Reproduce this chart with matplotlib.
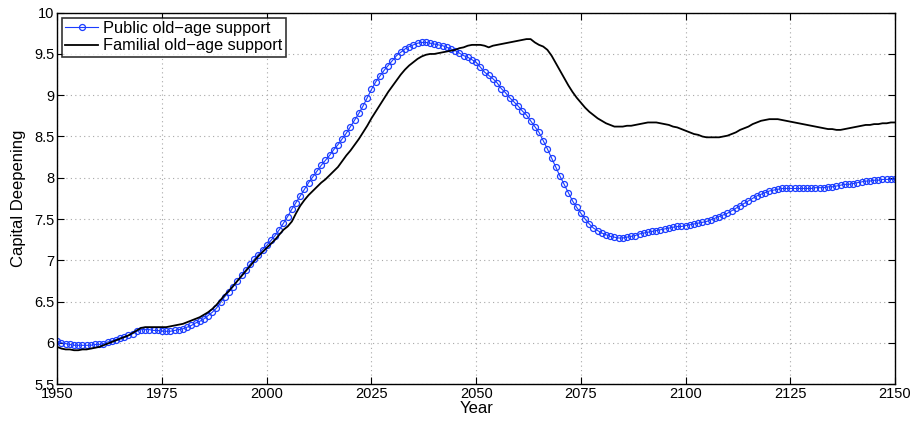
import numpy as np
import matplotlib.pyplot as plt

plt.rcParams['font.family'] = ['Liberation Sans', 'DejaVu Sans']

# 数据：按年份 1950-2150
years = np.arange(1950, 2151)

public_support = [
    6.02, 6.00, 5.99, 5.98, 5.97, 5.97, 5.97, 5.97, 5.97, 5.98,  # 1950
    5.98, 5.99, 6.01, 6.02, 6.04, 6.06, 6.07, 6.09, 6.11, 6.14,  # 1960
    6.16, 6.16, 6.16, 6.15, 6.15, 6.14, 6.14, 6.14, 6.15, 6.16,  # 1970
    6.17, 6.19, 6.21, 6.24, 6.26, 6.29, 6.33, 6.37, 6.42, 6.49,  # 1980
    6.56, 6.62, 6.68, 6.75, 6.82, 6.88, 6.95, 7.01, 7.07, 7.13,  # 1990
    7.18, 7.24, 7.30, 7.37, 7.45, 7.53, 7.62, 7.70, 7.78, 7.86,  # 2000
    7.94, 8.01, 8.08, 8.15, 8.21, 8.27, 8.34, 8.40, 8.47, 8.54,  # 2010
    8.62, 8.70, 8.78, 8.87, 8.97, 9.07, 9.16, 9.23, 9.30, 9.36,  # 2020
    9.42, 9.48, 9.52, 9.56, 9.59, 9.61, 9.63, 9.64, 9.64, 9.63,  # 2030
    9.62, 9.61, 9.60, 9.58, 9.56, 9.54, 9.51, 9.48, 9.46, 9.43,  # 2040
    9.40, 9.34, 9.28, 9.24, 9.20, 9.15, 9.08, 9.03, 8.97, 8.92,  # 2050
    8.87, 8.81, 8.76, 8.69, 8.62, 8.55, 8.45, 8.35, 8.24, 8.13,  # 2060
    8.02, 7.92, 7.82, 7.72, 7.64, 7.57, 7.50, 7.44, 7.39, 7.36,  # 2070
    7.33, 7.31, 7.29, 7.28, 7.27, 7.27, 7.28, 7.29, 7.30, 7.32,  # 2080
    7.33, 7.34, 7.35, 7.36, 7.37, 7.38, 7.39, 7.40, 7.41, 7.41,  # 2090
    7.42, 7.43, 7.44, 7.45, 7.46, 7.47, 7.49, 7.51, 7.53, 7.55,  # 2100
    7.57, 7.60, 7.63, 7.66, 7.69, 7.72, 7.75, 7.78, 7.80, 7.82,  # 2110
    7.84, 7.85, 7.86, 7.87, 7.87, 7.87, 7.87, 7.87, 7.87, 7.87,  # 2120
    7.87, 7.88, 7.88, 7.88, 7.89, 7.89, 7.90, 7.91, 7.92, 7.92,  # 2130
    7.93, 7.94, 7.95, 7.96, 7.96, 7.97, 7.97, 7.98, 7.98, 7.98,  # 2140
    7.98,                                                        # 2150
]

familial_support = [
    5.95, 5.93, 5.92, 5.92, 5.91, 5.91, 5.92, 5.92, 5.93, 5.94,  # 1950
    5.95, 5.97, 5.99, 6.01, 6.03, 6.05, 6.07, 6.09, 6.12, 6.15,  # 1960
    6.18, 6.19, 6.19, 6.19, 6.19, 6.19, 6.19, 6.20, 6.21, 6.22,  # 1970
    6.23, 6.25, 6.27, 6.29, 6.31, 6.34, 6.37, 6.41, 6.46, 6.52,  # 1980
    6.58, 6.63, 6.69, 6.75, 6.81, 6.87, 6.93, 6.99, 7.05, 7.10,  # 1990
    7.15, 7.20, 7.25, 7.31, 7.37, 7.41, 7.47, 7.57, 7.66, 7.73,  # 2000
    7.79, 7.84, 7.89, 7.94, 7.98, 8.03, 8.08, 8.13, 8.20, 8.27,  # 2010
    8.33, 8.40, 8.47, 8.55, 8.63, 8.72, 8.80, 8.88, 8.96, 9.04,  # 2020
    9.11, 9.18, 9.25, 9.31, 9.36, 9.40, 9.44, 9.47, 9.49, 9.50,  # 2030
    9.50, 9.51, 9.52, 9.53, 9.54, 9.55, 9.57, 9.58, 9.60, 9.61,  # 2040
    9.61, 9.61, 9.60, 9.58, 9.60, 9.61, 9.62, 9.63, 9.64, 9.65,  # 2050
    9.66, 9.67, 9.68, 9.68, 9.64, 9.61, 9.59, 9.55, 9.48, 9.39,  # 2060
    9.30, 9.21, 9.12, 9.04, 8.97, 8.91, 8.85, 8.80, 8.76, 8.72,  # 2070
    8.69, 8.66, 8.64, 8.62, 8.62, 8.62, 8.63, 8.63, 8.64, 8.65,  # 2080
    8.66, 8.67, 8.67, 8.67, 8.66, 8.65, 8.64, 8.62, 8.61, 8.59,  # 2090
    8.57, 8.55, 8.53, 8.52, 8.50, 8.49, 8.49, 8.49, 8.49, 8.50,  # 2100
    8.51, 8.53, 8.55, 8.58, 8.60, 8.62, 8.65, 8.67, 8.69, 8.70,  # 2110
    8.71, 8.71, 8.71, 8.70, 8.69, 8.68, 8.67, 8.66, 8.65, 8.64,  # 2120
    8.63, 8.62, 8.61, 8.60, 8.59, 8.59, 8.58, 8.58, 8.59, 8.60,  # 2130
    8.61, 8.62, 8.63, 8.64, 8.64, 8.65, 8.65, 8.66, 8.66, 8.67,  # 2140
    8.67,                                                        # 2150
]

x_ticks = [1950, 1975, 2000, 2025, 2050, 2075, 2100, 2125, 2150]
y_ticks = [5.5, 6, 6.5, 7, 7.5, 8, 8.5, 9, 9.5, 10]
y_tick_labels = ['5.5', '6', '6.5', '7', '7.5', '8', '8.5', '9', '9.5', '10']

fig = plt.figure(figsize=(9.15, 4.23), dpi=100)
ax = fig.add_axes([0.0626, 0.092, 0.9156, 0.878])

ax.plot(years, public_support, color='#1a3cff', linewidth=0.8, marker='o',
        markersize=4.3, markerfacecolor='none', markeredgewidth=0.9,
        label='Public old\u2212age support')
ax.plot(years, familial_support, color='black', linewidth=1.3,
        label='Familial old\u2212age support')

ax.set_xlim(1950, 2150)
ax.set_ylim(5.5, 10)
ax.set_xticks(x_ticks)
ax.set_yticks(y_ticks)
ax.set_yticklabels(y_tick_labels)
ax.tick_params(direction='in', top=True, right=True, labelsize=10.5,
               length=5, width=0.8, pad=2)
ax.grid(True, color='#a8a8a8', linestyle=(0, (1, 3)), linewidth=0.8)
for s in ax.spines.values():
    s.set_linewidth(1.0)

ax.set_xlabel('Year', fontsize=12, labelpad=0)
ax.set_ylabel('Capital Deepening', fontsize=12, labelpad=6)

leg = ax.legend(loc='upper left', fontsize=11.8, frameon=True, fancybox=False,
                borderaxespad=0.3, handlelength=2.0, handletextpad=0.3,
                borderpad=0.2, labelspacing=0.15)
leg.get_frame().set_edgecolor('black')
leg.get_frame().set_linewidth(1.2)

fig.savefig('out.png', dpi=100)
